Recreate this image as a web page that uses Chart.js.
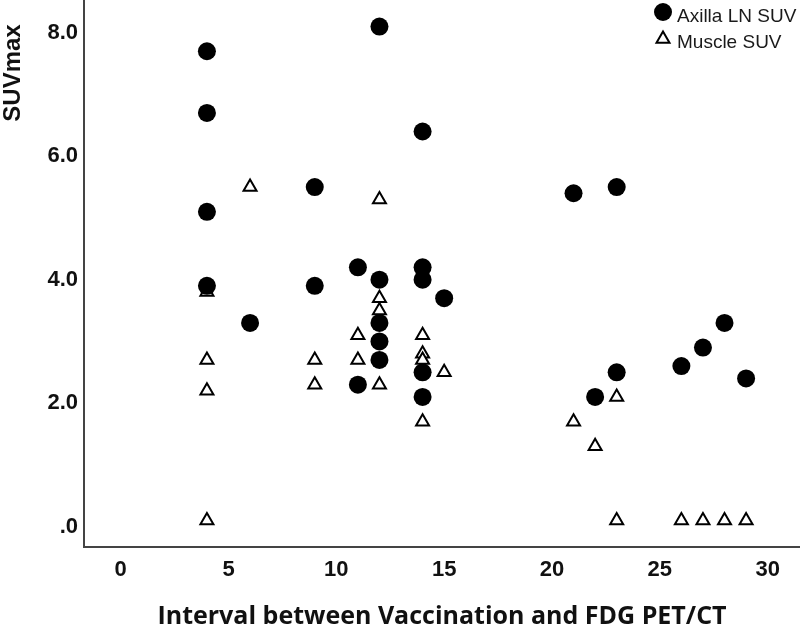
<!DOCTYPE html>
<html>
<head>
<meta charset="utf-8">
<title>SUVmax vs interval</title>
<script src="https://cdn.jsdelivr.net/npm/chart.js"></script>
<style>
  html, body { margin: 0; padding: 0; background: #fff; }
  #wrap { width: 800px; height: 633px; }
</style>
</head>
<body>
<div id="wrap"><canvas id="suvChart"></canvas></div>
<script>
// Axilla LN SUV (filled circles)
const axillaDays = [4, 4, 4, 4, 6, 9, 9, 11, 11, 12, 12, 12, 12, 12, 14, 14, 14, 14, 14, 15, 21, 22, 23, 23, 26, 27, 28, 29];
const axillaSUV  = [7.7, 6.7, 5.1, 3.9, 3.3, 5.5, 3.9, 4.2, 2.3, 8.1, 4.0, 3.3, 3.0, 2.7, 6.4, 4.2, 4.0, 2.5, 2.1, 3.7, 5.4, 2.1, 5.5, 2.5, 2.6, 2.9, 3.3, 2.4];

// Muscle SUV (open triangles)
const muscleDays = [4, 4, 4, 4, 6, 9, 9, 11, 11, 12, 12, 12, 12, 14, 14, 14, 14, 15, 21, 22, 23, 23, 26, 27, 28, 29];
const muscleSUV  = [3.8, 2.7, 2.2, 0.1, 5.5, 2.7, 2.3, 3.1, 2.7, 5.3, 3.7, 3.5, 2.3, 3.1, 2.8, 2.7, 1.7, 2.5, 1.7, 1.3, 2.1, 0.1, 0.1, 0.1, 0.1, 0.1];

const xTicks = [0, 5, 10, 15, 20, 25, 30];
const yTicks = [0, 2, 4, 6, 8];
const yTickLabels = ['.0', '2.0', '4.0', '6.0', '8.0'];

const seriesNames = ['Axilla LN SUV', 'Muscle SUV'];

function toPoints(xs, ys) {
    return xs.map((x, i) => ({ x: x, y: ys[i] }));
}

// y 축 제목과 범례는 직접 그림
const extrasPlugin = {
    id: 'extras',
    afterDraw(chart) {
        const ctx = chart.ctx;
        ctx.save();
        // y axis title
        ctx.fillStyle = '#111';
        ctx.font = 'bold 24px "Liberation Sans", Arial, sans-serif';
        ctx.textAlign = 'center';
        ctx.textBaseline = 'middle';
        ctx.translate(13, 73);
        ctx.rotate(-Math.PI / 2);
        ctx.fillText('SUVmax', 0, 0);
        ctx.restore();

        // legend
        ctx.save();
        ctx.fillStyle = '#000';
        ctx.beginPath();
        ctx.arc(663, 12, 9, 0, Math.PI * 2);
        ctx.fill();

        const r = 7.5, cx = 663, cy = 39;
        ctx.beginPath();
        ctx.moveTo(cx, cy - r);
        ctx.lineTo(cx + Math.sin(Math.PI / 3) * r, cy + r / 2);
        ctx.lineTo(cx - Math.sin(Math.PI / 3) * r, cy + r / 2);
        ctx.closePath();
        ctx.fillStyle = '#fff';
        ctx.fill();
        ctx.lineWidth = 2;
        ctx.strokeStyle = '#000';
        ctx.stroke();

        ctx.fillStyle = '#1a1a1a';
        ctx.font = '19px "Liberation Sans", Arial, sans-serif';
        ctx.textAlign = 'left';
        ctx.textBaseline = 'alphabetic';
        ctx.fillText(seriesNames[0], 677, 22);
        ctx.fillText(seriesNames[1], 677, 48);
        ctx.restore();
    }
};

const tickFont = { family: '"Liberation Sans", Arial, sans-serif', size: 22, weight: 'bold' };

new Chart(document.getElementById('suvChart'), {
    type: 'scatter',
    data: {
        datasets: [
            {
                label: seriesNames[0],
                data: toPoints(axillaDays, axillaSUV),
                pointStyle: 'circle',
                pointRadius: 9,
                pointBorderWidth: 0,
                backgroundColor: '#000',
                borderColor: '#000'
            },
            {
                label: seriesNames[1],
                data: toPoints(muscleDays, muscleSUV),
                pointStyle: 'triangle',
                pointRadius: 7.5,
                pointBorderWidth: 2,
                backgroundColor: '#fff',
                borderColor: '#000'
            }
        ]
    },
    options: {
        responsive: true,
        maintainAspectRatio: false,
        animation: false,
        layout: { padding: 0, autoPadding: false },
        plugins: {
            legend: { display: false },
            tooltip: { enabled: false }
        },
        scales: {
            x: {
                type: 'linear',
                min: -1.7,
                max: 31.5,
                afterBuildTicks: s => { s.ticks = xTicks.map(v => ({ value: v })); },
                afterFit: s => { s.height = 86; s.paddingLeft = 0; s.paddingRight = 0; },
                ticks: { font: tickFont, color: '#111', padding: 10, callback: v => String(v) },
                grid: { display: false, drawTicks: false },
                border: { display: true, color: '#444', width: 2 },
                title: {
                    display: true,
                    text: 'Interval between Vaccination and FDG PET/CT',
                    color: '#111',
                    font: { family: '"Open Sans", "Noto Sans", sans-serif', size: 25, weight: 'bold' },
                    padding: { top: 0, bottom: 1 }
                }
            },
            y: {
                type: 'linear',
                min: -0.33,
                max: 8.53,
                afterBuildTicks: s => { s.ticks = yTicks.map(v => ({ value: v })); },
                afterFit: s => { s.width = 84; s.paddingTop = 0; s.paddingBottom = 0; },
                ticks: { font: tickFont, color: '#111', padding: 6, callback: v => yTickLabels[yTicks.indexOf(v)] },
                grid: { display: false, drawTicks: false },
                border: { display: true, color: '#444', width: 2 }
            }
        }
    },
    plugins: [extrasPlugin]
});
</script>
</body>
</html>
